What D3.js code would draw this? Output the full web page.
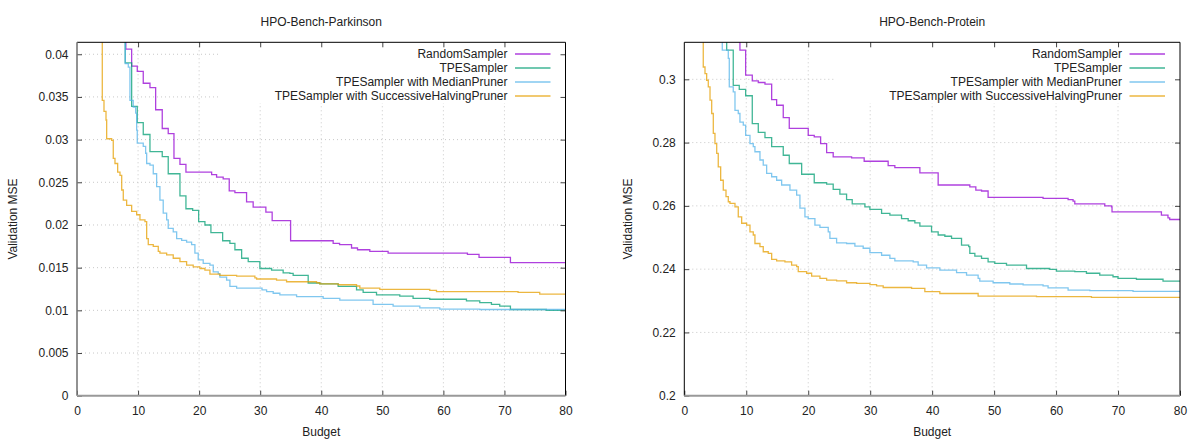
<!DOCTYPE html>
<html>
<head>
<meta charset="utf-8">
<script src="https://cdn.jsdelivr.net/npm/d3@7"></script>
<style>
    body { margin: 0; background: #fff; }
    svg { display: block; font-family: "Liberation Sans", Arial, sans-serif; }
    .tick text { font-size: 12px; fill: #222; }
    .label { font-size: 12px; fill: #222; }
</style>
</head>
<body>
<svg id="chart" width="1200" height="441"></svg>
<script>
// Series shown in both panels
const SERIES_NAMES = [
    "RandomSampler",
    "TPESampler",
    "TPESampler with MedianPruner",
    "TPESampler with SuccessiveHalvingPruner"
];
const SERIES_COLORS = ["#9400d3", "#009e73", "#56b4e9", "#e69f00"];

const BUDGET_TICKS = [0, 10, 20, 30, 40, 50, 60, 70, 80];
const PARKINSON_TICKS = [0, 0.005, 0.01, 0.015, 0.02, 0.025, 0.03, 0.035, 0.04];
const PROTEIN_TICKS = [0.2, 0.22, 0.24, 0.26, 0.28, 0.3];

// [budget, best validation MSE so far]
const parkinsonRandom = [
    [8.0, 0.046], [8.0, 0.0406], [8.95, 0.0386], [9.87, 0.0380], [10.85, 0.0366], [11.95, 0.0361],
    [12.88, 0.0335], [13.96, 0.0313], [14.94, 0.0307], [15.88, 0.0278], [16.86, 0.0271], [17.84, 0.0262],
    [22.05, 0.0259], [22.86, 0.0256], [23.94, 0.0254], [24.93, 0.0240], [25.86, 0.0238], [27.77, 0.0227],
    [28.85, 0.0221], [30.93, 0.0215], [31.96, 0.0205], [34.98, 0.01815], [41.95, 0.01785], [43.0, 0.0177],
    [44.96, 0.0173], [45.94, 0.0171], [47.95, 0.0169], [50.95, 0.0167], [63.94, 0.01656], [65.84, 0.0162],
    [70.98, 0.0156], [80, 0.0156]
];
const parkinsonTpe = [
    [7.9, 0.046], [7.9, 0.0390], [8.95, 0.0339], [9.87, 0.0320], [10.85, 0.0306], [11.95, 0.0286],
    [13.96, 0.0280], [14.94, 0.0260], [16.86, 0.0234], [17.84, 0.0219], [18.94, 0.0217], [19.92, 0.0204],
    [20.95, 0.0200], [21.93, 0.0191], [23.85, 0.01815], [25.04, 0.01785], [25.86, 0.0171], [26.96, 0.0161],
    [28.04, 0.0157], [29.95, 0.0149], [31.87, 0.0147], [33.76, 0.0144], [34.86, 0.01433], [35.4, 0.0141],
    [37.86, 0.0132], [39.77, 0.0131], [42.77, 0.0128], [45.78, 0.0124], [46.86, 0.0121], [49.05, 0.0118],
    [52.86, 0.01167], [55.04, 0.0114], [57.77, 0.0113], [63.78, 0.0111], [65.96, 0.0109], [67.87, 0.0107],
    [69.23, 0.0105], [70.98, 0.0101], [76.87, 0.0100], [80, 0.0099]
];
const parkinsonMedian = [
    [7.9, 0.046], [7.9, 0.0389], [8.4, 0.0385], [8.67, 0.0346], [9.21, 0.0338], [9.61, 0.0331],
    [9.77, 0.0311], [9.87, 0.0296], [10.85, 0.0292], [11.24, 0.0284], [11.41, 0.0272], [11.95, 0.0270],
    [12.49, 0.0260], [13.04, 0.0245], [13.58, 0.0229], [14.12, 0.0214], [14.68, 0.0206], [14.94, 0.0196],
    [15.76, 0.0192], [16.32, 0.0184], [17.14, 0.0182], [17.95, 0.0180], [18.77, 0.0177], [19.31, 0.0167],
    [19.85, 0.0159], [20.67, 0.0155], [21.77, 0.0153], [22.31, 0.0145], [23.13, 0.0143], [23.4, 0.0139],
    [24.5, 0.01355], [25.04, 0.0128], [26.14, 0.0126], [30.3, 0.0124], [31.05, 0.0122], [32.13, 0.0120],
    [33.22, 0.0118], [35.96, 0.0116], [40.31, 0.0114], [43.04, 0.0112], [48.49, 0.0107], [51.77, 0.0105],
    [56.14, 0.0103], [59.41, 0.01015], [65.96, 0.0101], [80, 0.0100]
];
const parkinsonHalving = [
    [4.1, 0.046], [4.14, 0.0346], [4.42, 0.0333], [4.75, 0.0323], [4.86, 0.0301], [5.68, 0.0299],
    [5.94, 0.0278], [6.22, 0.0272], [6.66, 0.0262], [7.04, 0.0258], [7.32, 0.0241], [7.58, 0.0229],
    [8.13, 0.0223], [8.95, 0.0216], [9.77, 0.0212], [10.31, 0.0206], [11.13, 0.0204], [11.41, 0.0184],
    [11.67, 0.0177], [12.49, 0.0175], [13.31, 0.0169], [13.58, 0.0167], [14.68, 0.0165], [15.76, 0.0161],
    [16.86, 0.0157], [17.95, 0.0153], [19.03, 0.0151], [20.13, 0.0149], [20.95, 0.0147], [21.77, 0.01425],
    [23.4, 0.0141], [26.14, 0.0140], [29.13, 0.0138], [29.41, 0.01367], [32.68, 0.01355], [34.32, 0.01335],
    [39.23, 0.01323], [39.77, 0.0131], [42.77, 0.0130], [45.78, 0.01285], [46.32, 0.0126], [49.59, 0.01246],
    [57.77, 0.01234], [58.87, 0.0122], [72.23, 0.0121], [75.78, 0.0119], [80, 0.0119]
];

const proteinRandom = [
    [8.98, 0.33], [8.98, 0.3092], [9.9, 0.3013], [10.97, 0.2995], [11.94, 0.2990], [13.02, 0.29845],
    [14.1, 0.2936], [14.9, 0.2918], [15.97, 0.2879], [16.94, 0.2845], [20.0, 0.2823], [20.97, 0.2818],
    [22.0, 0.2797], [22.97, 0.2768], [24.03, 0.2755], [27.0, 0.2752], [29.03, 0.2741], [32.9, 0.2727],
    [33.98, 0.2721], [38.02, 0.2704], [40.97, 0.2666], [46.08, 0.2660], [47.05, 0.2650], [47.97, 0.2647],
    [49.03, 0.2627], [57.9, 0.2624], [61.94, 0.2620], [62.74, 0.2615], [63.02, 0.2606], [67.86, 0.2600],
    [68.94, 0.2597], [69.03, 0.2581], [77.0, 0.2571], [78.06, 0.2562], [78.34, 0.2557], [80, 0.2555]
];
const proteinTpe = [
    [6.84, 0.33], [6.84, 0.3092], [7.9, 0.2981], [8.87, 0.2968], [9.9, 0.2948], [10.97, 0.2860],
    [11.94, 0.2832], [13.02, 0.2816], [14.1, 0.2787], [15.97, 0.2760], [16.94, 0.2734], [18.94, 0.2700],
    [20.97, 0.2673], [22.97, 0.2669], [24.03, 0.2652], [25.11, 0.2637], [26.19, 0.2620], [27.1, 0.2606],
    [29.15, 0.2597], [29.95, 0.2589], [31.84, 0.2576], [33.18, 0.2571], [35.06, 0.2560], [36.13, 0.2553],
    [37.21, 0.2546], [38.02, 0.2536], [39.9, 0.2518], [40.97, 0.2508], [42.05, 0.2504], [43.13, 0.2497],
    [44.74, 0.2476], [45.9, 0.2471], [46.08, 0.2450], [46.89, 0.2441], [47.97, 0.2434], [49.03, 0.2423],
    [50.11, 0.2418], [52.0, 0.2413], [55.23, 0.2402], [58.98, 0.2399], [60.06, 0.2394], [63.02, 0.2392],
    [64.9, 0.2387], [67.05, 0.2381], [69.19, 0.2376], [70.0, 0.2371], [72.97, 0.2368], [77.26, 0.2362],
    [80, 0.2360]
];
const proteinMedian = [
    [6.13, 0.33], [6.13, 0.3092], [7.1, 0.3066], [7.26, 0.2976], [7.9, 0.2960], [8.18, 0.2902],
    [8.71, 0.2892], [8.98, 0.2865], [9.52, 0.2855], [9.9, 0.2823], [10.6, 0.2797], [11.13, 0.2787],
    [11.4, 0.2771], [12.21, 0.2745], [12.74, 0.2729], [13.29, 0.2703], [14.1, 0.2692], [14.9, 0.2681],
    [15.71, 0.2666], [17.05, 0.2650], [18.13, 0.2634], [18.66, 0.2593], [19.47, 0.2565], [20.0, 0.2560],
    [21.08, 0.2539], [21.89, 0.2532], [23.23, 0.2518], [23.5, 0.2497], [24.58, 0.2483], [26.19, 0.2481],
    [27.53, 0.2473], [28.87, 0.2466], [29.95, 0.2452], [31.84, 0.2444], [33.18, 0.2434], [33.98, 0.2426],
    [36.94, 0.2423], [37.74, 0.2413], [39.1, 0.2404], [41.24, 0.2397], [43.94, 0.2389], [45.55, 0.2381],
    [47.42, 0.2371], [47.69, 0.2362], [49.84, 0.2357], [52.53, 0.2353], [54.68, 0.2350], [57.9, 0.2347],
    [58.71, 0.2341], [61.94, 0.2334], [65.44, 0.2332], [72.42, 0.2330], [80, 0.2327]
];
const proteinHalving = [
    [2.97, 0.33], [3.06, 0.3039], [3.34, 0.3018], [3.61, 0.2997], [3.87, 0.2976], [4.15, 0.2934],
    [4.42, 0.2892], [4.68, 0.2829], [4.95, 0.2797], [5.23, 0.2766], [5.48, 0.2723], [5.87, 0.2681],
    [6.29, 0.2650], [6.73, 0.2629], [7.1, 0.2613], [7.37, 0.2608], [8.18, 0.2597], [8.71, 0.2565],
    [9.26, 0.2545], [10.06, 0.2539], [10.6, 0.2518], [11.13, 0.2508], [11.4, 0.2481], [12.21, 0.2471],
    [12.74, 0.2455], [13.55, 0.2450], [14.1, 0.2431], [14.9, 0.2426], [16.24, 0.2423], [17.32, 0.2413],
    [18.13, 0.2408], [18.39, 0.2392], [19.74, 0.2387], [20.55, 0.2378], [21.89, 0.2371], [22.97, 0.2365],
    [24.58, 0.2363], [26.19, 0.2357], [27.81, 0.2355], [29.95, 0.2351], [31.03, 0.2347], [32.1, 0.2342],
    [36.68, 0.2339], [38.82, 0.2329], [41.24, 0.2323], [47.42, 0.2315], [56.84, 0.2313], [65.71, 0.2311],
    [80, 0.2310]
];

const PANELS = [
    {
        id: "parkinson",
        title: "HPO-Bench-Parkinson",
        left: 77, right: 565.5, ylabelX: 16.5,
        yDomain: [0, 0.0414], yTicks: PARKINSON_TICKS,
        series: [parkinsonRandom, parkinsonTpe, parkinsonMedian, parkinsonHalving]
    },
    {
        id: "protein",
        title: "HPO-Bench-Protein",
        left: 684.3, right: 1180, ylabelX: 632,
        yDomain: [0.2, 0.3117], yTicks: PROTEIN_TICKS,
        series: [proteinRandom, proteinTpe, proteinMedian, proteinHalving]
    }
];

const TOP = 42.3;
const BOTTOM = 395.7;
const svg = d3.select("#chart");

const drawPanel = (panel) => {
    const g = svg.append("g").attr("class", "panel-" + panel.id);

    const x = d3.scaleLinear().domain([0, 80]).range([panel.left, panel.right]);
    const y = d3.scaleLinear().domain(panel.yDomain).range([BOTTOM, TOP]);

    // Dotted grid
    const grid = g.append("g").attr("stroke", "#c8c8c8").attr("stroke-dasharray", "1,3");
    grid.selectAll(".vgrid").data(BUDGET_TICKS.slice(1, -1)).enter().append("line")
        .attr("x1", (d) => x(d)).attr("x2", (d) => x(d))
        .attr("y1", TOP).attr("y2", BOTTOM);
    grid.selectAll(".hgrid").data(panel.yTicks.filter((d) => y(d) < BOTTOM - 1)).enter().append("line")
        .attr("x1", panel.left).attr("x2", panel.right)
        .attr("y1", (d) => y(d)).attr("y2", (d) => y(d));

    // Legend background hides the grid
    g.append("rect")
        .attr("x", panel.right - 345).attr("y", TOP)
        .attr("width", 345).attr("height", 103 - TOP)
        .attr("fill", "#fff");

    // Clip for curves
    const clipId = "clip-" + panel.id;
    g.append("clipPath").attr("id", clipId).append("rect")
        .attr("x", panel.left).attr("y", TOP)
        .attr("width", panel.right - panel.left).attr("height", BOTTOM - TOP);

    const line = d3.line()
        .x((d) => x(d[0]))
        .y((d) => y(d[1]))
        .curve(d3.curveStepAfter);

    g.append("g").attr("clip-path", "url(#" + clipId + ")")
        .selectAll("path").data(panel.series).enter().append("path")
        .attr("d", line)
        .attr("fill", "none")
        .attr("stroke", (d, i) => SERIES_COLORS[i])
        .attr("stroke-opacity", 0.75)
        .attr("stroke-width", 1.3);

    // Axes with inward ticks, mirrored on top/right
    const styleAxis = (axisG) => {
        axisG.select(".domain").remove();
        axisG.selectAll(".tick line").attr("stroke", "#444");
        axisG.selectAll(".tick text").attr("font-family", null).attr("font-size", null);
        axisG.attr("font-family", null).attr("font-size", null);
    };

    g.append("g").attr("transform", "translate(0," + BOTTOM + ")")
        .call(d3.axisBottom(x).tickValues(BUDGET_TICKS).tickSize(-5).tickPadding(10.5).tickFormat(d3.format("d")))
        .call(styleAxis);
    g.append("g").attr("transform", "translate(0," + TOP + ")")
        .call(d3.axisTop(x).tickValues(BUDGET_TICKS.slice(1, -1)).tickSize(-5).tickFormat(""))
        .call(styleAxis);
    g.append("g").attr("transform", "translate(" + panel.left + ",0)")
        .call(d3.axisLeft(y).tickValues(panel.yTicks).tickSize(-5).tickPadding(8.5).tickFormat(d3.format("~g")))
        .call(styleAxis);
    g.append("g").attr("transform", "translate(" + panel.right + ",0)")
        .call(d3.axisRight(y).tickValues(panel.yTicks.filter((d) => y(d) < BOTTOM - 1)).tickSize(-5).tickFormat(""))
        .call(styleAxis);

    // Border
    g.append("line").attr("x1", panel.left).attr("x2", panel.right).attr("y1", TOP).attr("y2", TOP)
        .attr("stroke", "#000");
    g.append("line").attr("x1", panel.right).attr("x2", panel.right).attr("y1", TOP).attr("y2", BOTTOM)
        .attr("stroke", "#000");
    g.append("line").attr("x1", panel.left).attr("x2", panel.left).attr("y1", TOP).attr("y2", BOTTOM)
        .attr("stroke", panel.id === "parkinson" ? "#777" : "#000")
        .attr("stroke-width", panel.id === "parkinson" ? 1.6 : 1);
    g.append("line").attr("x1", panel.left).attr("x2", panel.right).attr("y1", BOTTOM).attr("y2", BOTTOM)
        .attr("stroke", "#999").attr("stroke-width", 2);

    // Legend
    const legend = g.append("g");
    SERIES_NAMES.forEach((name, i) => {
        const rowY = 54 + i * 14;
        legend.append("text")
            .attr("class", "label")
            .attr("x", panel.right - 58)
            .attr("y", rowY + 4)
            .attr("text-anchor", "end")
            .text(name);
        legend.append("line")
            .attr("x1", panel.right - 50.5).attr("x2", panel.right - 15)
            .attr("y1", rowY).attr("y2", rowY)
            .attr("stroke", SERIES_COLORS[i])
            .attr("stroke-opacity", 0.75)
            .attr("stroke-width", 1.3);
    });

    // Titles and axis labels
    const centerX = (panel.left + panel.right) / 2;
    g.append("text").attr("class", "label")
        .attr("x", centerX).attr("y", 25.5)
        .attr("text-anchor", "middle")
        .text(panel.title);
    g.append("text").attr("class", "label")
        .attr("x", centerX).attr("y", 436)
        .attr("text-anchor", "middle")
        .text("Budget");
    g.append("text").attr("class", "label")
        .attr("transform", "translate(" + panel.ylabelX + "," + ((TOP + BOTTOM) / 2) + ") rotate(-90)")
        .attr("text-anchor", "middle")
        .text("Validation MSE");
};

PANELS.forEach(drawPanel);
</script>
</body>
</html>
